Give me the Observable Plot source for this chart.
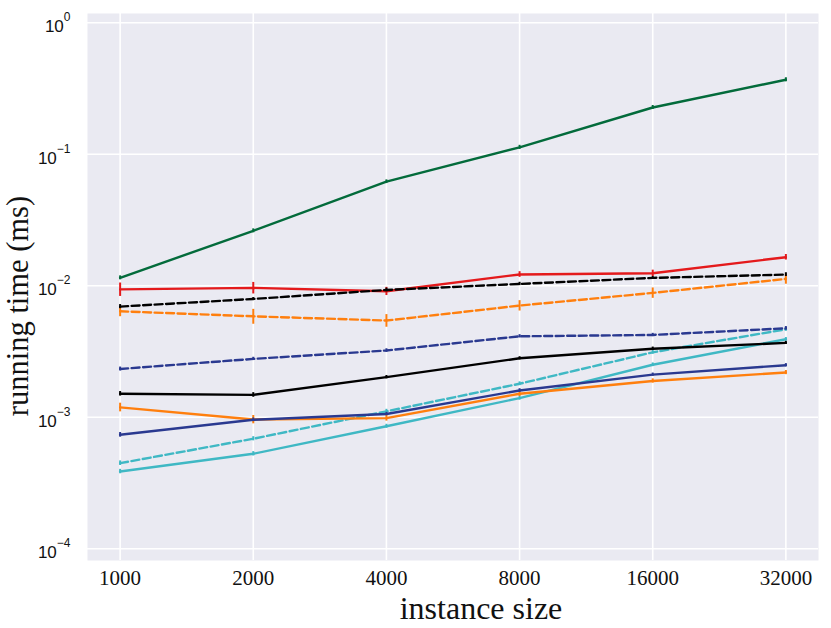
<!DOCTYPE html>
<html><head><meta charset="utf-8">
<script src="https://cdn.jsdelivr.net/npm/d3@7"></script>
<script src="https://cdn.jsdelivr.net/npm/@observablehq/plot@0.6"></script>
<style>body{margin:0;background:#fff}</style>
</head><body><div id="chart"></div>
<script>
const sizes = [1000, 2000, 4000, 8000, 16000, 32000];
const yTicks = [1, 0.1, 0.01, 0.001, 0.0001];

const greenSolid = [0.0115, 0.0262, 0.0619, 0.113, 0.227, 0.369];
const greenErr   = [0.0004, 0.0009, 0.002, 0.004, 0.008, 0.013];
const redSolid   = [0.0094, 0.00964, 0.00908, 0.0122, 0.01245, 0.0165];
const redErr     = [0.0011, 0.00097, 0.00065, 0.0006, 0.0007, 0.0008];
const blackDashed = [0.00695, 0.00794, 0.0093, 0.01033, 0.01148, 0.01217];
const blackDashedErr = [0.00025, 0.0002, 0.0003, 0.0003, 0.0003, 0.0004];
const orangeDashed = [0.0064, 0.00586, 0.00544, 0.00707, 0.00883, 0.01128];
const orangeDashedErr = [0.00058, 0.00076, 0.0006, 0.00064, 0.0008, 0.001];
const navyDashed = [0.00233, 0.00278, 0.00322, 0.00413, 0.00423, 0.00475];
const navyDashedErr = [0.00008, 0.00008, 0.0001, 0.00012, 0.00012, 0.00015];
const blackSolid = [0.00151, 0.00148, 0.00202, 0.00281, 0.00332, 0.00368];
const blackSolidErr = [0.00006, 0.00006, 0.00006, 0.00008, 0.0001, 0.0001];
const orangeSolid = [0.00119, 0.000962, 0.000985, 0.00151, 0.00189, 0.00219];
const orangeSolidErr = [0.00009, 0.00007, 0.00005, 0.00007, 0.00007, 0.00008];
const navySolid = [0.000736, 0.000957, 0.00106, 0.0016, 0.00211, 0.00249];
const navySolidErr = [0.00003, 0.00003, 0.00003, 0.00005, 0.00006, 0.00007];
const cyanDashed = [0.000448, 0.000687, 0.00111, 0.0018, 0.00312, 0.00467];
const cyanDashedErr = [0.000018, 0.000025, 0.00004, 0.00006, 0.0001, 0.00015];
const cyanSolid = [0.000387, 0.000528, 0.000855, 0.0014, 0.00251, 0.00392];
const cyanSolidErr = [0.000015, 0.00002, 0.00003, 0.00005, 0.00008, 0.00012];

const GREEN = "#036b3b", RED = "#e41a1c", BLACK = "#000000", ORANGE = "#ff7f0e", NAVY = "#2a3990", CYAN = "#3fb8c4";
const DASH = "8,3.5";

const series = [
  {values: cyanSolid, err: cyanSolidErr, color: CYAN, dash: null},
  {values: cyanDashed, err: cyanDashedErr, color: CYAN, dash: DASH},
  {values: orangeSolid, err: orangeSolidErr, color: ORANGE, dash: null},
  {values: navySolid, err: navySolidErr, color: NAVY, dash: null},
  {values: blackSolid, err: blackSolidErr, color: BLACK, dash: null},
  {values: navyDashed, err: navyDashedErr, color: NAVY, dash: DASH},
  {values: orangeDashed, err: orangeDashedErr, color: ORANGE, dash: DASH},
  {values: redSolid, err: redErr, color: RED, dash: null},
  {values: blackDashed, err: blackDashedErr, color: BLACK, dash: DASH},
  {values: greenSolid, err: greenErr, color: GREEN, dash: null}
];

const seriesMarks = series.flatMap(s => {
  const rows = sizes.map((x, i) => ({x, v: s.values[i], lo: s.values[i] - s.err[i], hi: s.values[i] + s.err[i]}));
  return [
    Plot.lineY(rows, {x: "x", y: "v", stroke: s.color, strokeWidth: 2.4, strokeDasharray: s.dash}),
    Plot.ruleX(rows, {x: "x", y1: "lo", y2: "hi", stroke: s.color, strokeWidth: 2})
  ];
});

const plot = Plot.plot({
  width: 831,
  height: 628,
  marginLeft: 87,
  marginRight: 13,
  marginTop: 13,
  marginBottom: 68,
  style: {background: "#fff"},
  x: {type: "log", base: 2, domain: [1000 * Math.pow(2, -0.245), 32000 * Math.pow(2, 0.245)]},
  y: {type: "log", domain: [Math.pow(10, -4.089), Math.pow(10, 0.0707)]},
  marks: [
    Plot.frame({fill: "#EAEAF2", stroke: null}),
    Plot.gridY(yTicks, {stroke: "white", strokeOpacity: 1, strokeWidth: 1.6}),
    Plot.gridX(sizes, {stroke: "white", strokeOpacity: 1, strokeWidth: 1.6}),
    ...seriesMarks,
    Plot.axisX(sizes, {tickSize: 0, tickPadding: 10, tickFormat: d => String(d), fontFamily: "Liberation Serif", fontSize: 21, label: null, fill: "#111"}),
    Plot.axisY(yTicks, {tickSize: 0, tickPadding: 17, tickFormat: d => String(Math.round(Math.log10(d))), fontFamily: "Liberation Sans", fontSize: 17, label: null, fill: "#111"}),
    Plot.text(["instance size"], {frameAnchor: "bottom", textAnchor: "middle", lineAnchor: "middle", dx: 28, dy: 48, fontSize: 32, fontFamily: "Liberation Serif", fill: "#111"}),
    Plot.text(["running time (ms)"], {frameAnchor: "left", textAnchor: "middle", lineAnchor: "middle", dx: -69, dy: 19, rotate: -90, fontSize: 30.5, fontFamily: "Liberation Serif", fill: "#111"})
  ]
});

// render exponents as superscripts
d3.select(plot).selectAll('g[aria-label="y-axis tick label"] text').each(function() {
  const t = d3.select(this);
  const e = t.text().replace("-", "\u2212");
  t.text("").attr("dy", "0.23em");
  t.append("tspan").text("10");
  t.append("tspan").attr("dy", "-11").attr("font-size", 12).text(e);
});

document.getElementById("chart").appendChild(plot);
</script>
</body></html>
